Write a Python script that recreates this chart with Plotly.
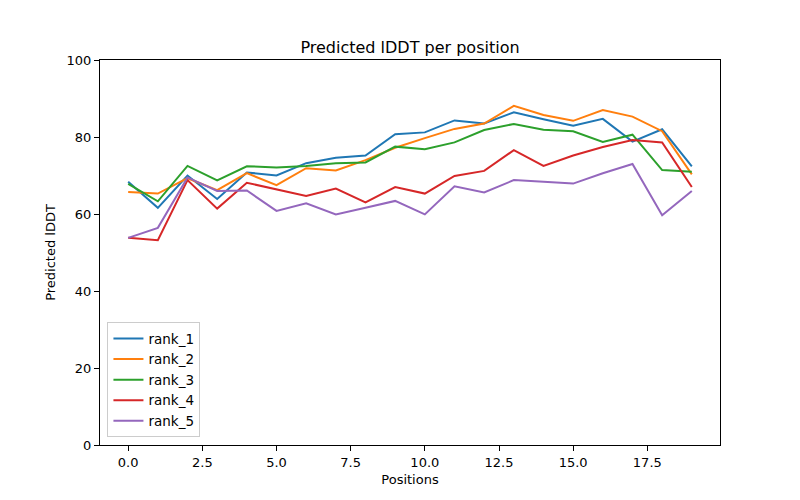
import plotly.graph_objects as go

positions = list(range(20))
rank_1 = [68.4, 61.6, 70.0, 63.9, 70.8, 70.0, 73.2, 74.6, 75.2, 80.7, 81.2, 84.3, 83.5, 86.4, 84.6, 82.9, 84.7, 78.8, 82.0, 72.4]
rank_2 = [65.7, 65.3, 69.3, 66.2, 70.6, 67.5, 71.9, 71.3, 74.0, 77.2, 79.7, 82.1, 83.5, 88.1, 85.7, 84.2, 87.0, 85.3, 81.5, 70.3]
rank_3 = [67.8, 63.3, 72.5, 68.7, 72.4, 72.1, 72.5, 73.2, 73.4, 77.5, 76.8, 78.6, 81.8, 83.4, 81.9, 81.5, 78.7, 80.6, 71.4, 71.0]
rank_4 = [53.8, 53.2, 68.8, 61.4, 68.1, 66.4, 64.7, 66.6, 63.0, 67.0, 65.3, 69.9, 71.2, 76.6, 72.5, 75.2, 77.4, 79.2, 78.6, 67.0]
rank_5 = [53.8, 56.4, 69.5, 66.0, 66.1, 60.8, 62.8, 59.9, 61.6, 63.4, 59.9, 67.2, 65.6, 68.8, 68.4, 67.9, 70.6, 73.0, 59.7, 66.0]

series = {"rank_1": rank_1, "rank_2": rank_2, "rank_3": rank_3, "rank_4": rank_4, "rank_5": rank_5}
colors = ["#1f77b4", "#ff7f0e", "#2ca02c", "#d62728", "#9467bd"]

fig = go.Figure()
for (name, vals), c in zip(series.items(), colors):
    fig.add_trace(go.Scatter(x=positions, y=vals, mode="lines", name=name,
                             line=dict(color=c, width=2)))

axis_common = dict(showline=True, linecolor="black", linewidth=1, mirror=True,
                   ticks="outside", ticklen=5, tickwidth=1, tickcolor="black",
                   showgrid=False, zeroline=False,
                   tickfont=dict(family="DejaVu Sans", size=13, color="black"))

W, H = 792, 492
fig.update_layout(
    width=W, height=H,
    margin=dict(l=92, r=80, t=52, b=55),
    paper_bgcolor="white", plot_bgcolor="white",
    font=dict(family="DejaVu Sans", size=13, color="black"),
    title=dict(text="Predicted lDDT per position", x=0.5, xref="paper", xanchor="center",
               y=1 - 39 / H, yanchor="middle",
               font=dict(family="DejaVu Sans", size=16, color="black")),
    xaxis=dict(range=[-0.95, 19.95], tickvals=[0, 2.5, 5, 7.5, 10, 12.5, 15, 17.5],
               ticktext=["0.0", "2.5", "5.0", "7.5", "10.0", "12.5", "15.0", "17.5"],
               title=dict(text="Positions", font=dict(family="DejaVu Sans", size=13), standoff=6),
               **axis_common),
    yaxis=dict(range=[0, 100], tickvals=[0, 20, 40, 60, 80, 100],
               title=dict(text="Predicted lDDT", font=dict(family="DejaVu Sans", size=13), standoff=8),
               **axis_common),
    legend=dict(x=0.012, y=0.02, xanchor="left", yanchor="bottom",
                bgcolor="rgba(255,255,255,0.8)", bordercolor="#cccccc", borderwidth=1,
                font=dict(family="DejaVu Sans", size=13.5), itemwidth=30,
                tracegroupgap=0),
    showlegend=True,
)

fig.write_html("out.html")
